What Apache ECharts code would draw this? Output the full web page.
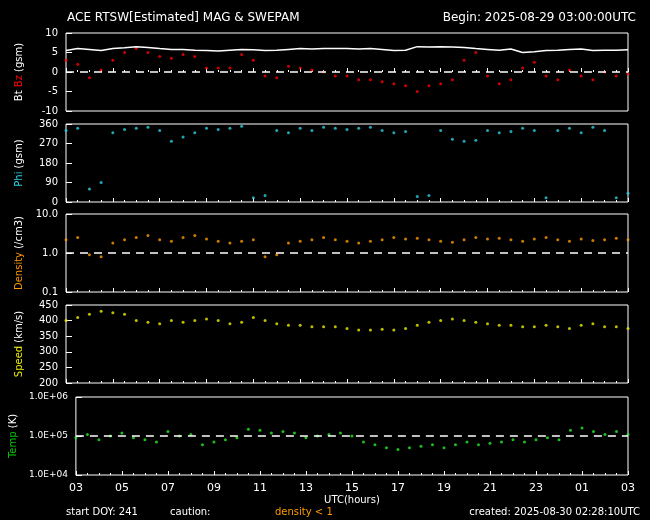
<!DOCTYPE html>
<html><head><meta charset="utf-8">
<script src="https://cdn.jsdelivr.net/npm/echarts@6/dist/echarts.min.js"></script>
<style>html,body{margin:0;background:#000}#c{width:650px;height:520px}</style>
</head><body><div id="c"></div>
<script>
// hours since 03:00 UTC, every 0.5h
const hours = [];
for (let i = 0; i <= 48; i++) hours.push(i / 2);
const bt = [5.5,6,5.8,5.5,6,6.2,6.5,6.3,6,5.8,5.8,5.6,5.5,5.4,5.6,5.8,5.7,5.5,5.6,5.8,6,5.9,6,6,6,5.9,6,5.8,5.5,5.6,6.5,6.4,6.5,6.4,6.3,6,5.8,5.6,5.9,5,5.2,5.5,5.6,5.8,5.9,5.5,5.6,5.6,5.7];
const bz = [3,2,-1.5,0.5,3,5,6,5,4,3.5,4.5,4,1,1,1,4.5,3,-1,-1.5,1.5,1,0.5,0,-1,-1,-2,-2,-2.5,-3,-3.5,-5,-3.5,-3,-2,3,5,-1,-3,-2,1,2.5,-1,-2,0.5,-1,-2,0,-1,-0.5];
const phi = [330,340,60,90,320,335,340,345,330,280,300,320,340,335,340,350,20,30,330,320,340,330,345,340,335,340,345,330,320,325,25,30,330,290,280,285,330,320,325,340,330,20,330,340,320,345,330,20,40];
const dens = [2.2,2.5,0.9,0.8,1.8,2.2,2.5,2.8,2.2,2,2.5,2.8,2.3,2,1.8,2,2.2,0.8,0.9,1.8,2,2.2,2.5,2.2,2,1.8,2,2.2,2.5,2.3,2.4,2.2,2,1.9,2.2,2.5,2.3,2.4,2.2,2,2.3,2.5,2.2,2,2.3,2.1,2.2,2.4,2.2];
const speed = [400,410,420,430,425,420,400,395,390,400,395,400,405,400,390,395,410,400,390,385,385,380,380,380,375,370,370,372,370,375,385,395,400,405,400,395,390,385,385,380,380,385,380,375,385,390,380,380,375];
const temp = [9e4,1.1e5,8e4,1e5,1.2e5,9e4,8e4,7e4,1.3e5,1e5,1.1e5,6e4,7e4,8e4,9e4,1.5e5,1.4e5,1.2e5,1.3e5,1.2e5,9e4,1e5,1.1e5,1.2e5,1e5,7e4,6e4,5e4,4.5e4,5e4,5.5e4,6e4,5e4,6e4,7e4,6e4,6.5e4,7e4,8e4,7e4,8e4,9e4,8e4,1.4e5,1.6e5,1.3e5,1.1e5,1.3e5,1.1e5];
const xTicks = ['03','05','07','09','11','13','15','17','19','21','23','01','03'];

const F = 'DejaVu Sans';
const tops = [33,124,214,305,397], h = 78;
const grids = tops.map(t => ({left:66,right:22,top:t,height:h,show:true,borderColor:'#fff',borderWidth:1,backgroundColor:'#000'}));
const xAxes = tops.map((t,i) => ({gridIndex:i,type:'value',min:0,max:24,interval:2,
  axisLine:{show:false},splitLine:{show:false},
  axisTick:{inside:true,length:4,lineStyle:{color:'#fff'}},
  minorTick:{show:true,splitNumber:4,length:2,lineStyle:{color:'#fff'}},
  axisLabel:{show:i===4,color:'#fff',fontFamily:F,fontSize:11,margin:8,formatter:v=>xTicks[v/2]},
  name:i===4?'UTC(hours)':'',nameLocation:'middle',nameGap:20,nameTextStyle:{color:'#fff',fontFamily:F,fontSize:10}}));
function yax(i,o,nm){return Object.assign({gridIndex:i,axisLine:{show:false},splitLine:{show:false},
  axisTick:{inside:true,length:6,lineStyle:{color:'#fff'}},
  axisLabel:{color:'#fff',fontFamily:F,fontSize:10},
  name:nm,nameLocation:'middle',nameRotate:90,nameGap:42,nameTextStyle:{fontFamily:F,fontSize:10,rich:{w:{color:'#fff',fontSize:10},r:{color:'#f00',fontSize:10},c:{color:'#2ad0e0',fontSize:10},o:{color:'#f90',fontSize:10},y:{color:'#ee0',fontSize:10},g:{color:'#0c0',fontSize:10}}}},o);}
const yAxes = [
  yax(0,{type:'value',min:-10,max:10,interval:5},'{w|Bt} {r|Bz} {w|(gsm)}'),
  yax(1,{type:'value',min:0,max:360,interval:90},'{c|Phi} {w|(gsm)}'),
  yax(2,{type:'log',min:0.1,max:10,logBase:10,axisLabel:{color:'#fff',fontFamily:F,fontSize:10,formatter:v=>v.toFixed(1)}},'{o|Density} {w|(/cm3)}'),
  yax(3,{type:'value',min:200,max:450,interval:50},'{y|Speed} {w|(km/s)}'),
  yax(4,{type:'log',min:1e4,max:1e6,axisLabel:{color:'#fff',fontFamily:F,fontSize:9,formatter:v=>v.toExponential(1).toUpperCase().replace('E+','E+0')}},'{g|Temp} {w|(K)}')
];
const z = a => hours.map((x,i)=>[x,a[i]]);
const dash = v => ({silent:true,symbol:'none',label:{show:false},lineStyle:{color:'#fff',type:[8,6],width:1.5},data:[{yAxis:v}]});
const series = [
  {type:'line',xAxisIndex:0,yAxisIndex:0,data:z(bt),showSymbol:false,lineStyle:{color:'#fff',width:1.5}},
  {type:'scatter',xAxisIndex:0,yAxisIndex:0,data:z(bz),symbolSize:3,itemStyle:{color:'#f00'},markLine:dash(0)},
  {type:'scatter',xAxisIndex:1,yAxisIndex:1,data:z(phi),symbolSize:3,itemStyle:{color:'#2ad0e0'}},
  {type:'scatter',xAxisIndex:2,yAxisIndex:2,data:z(dens),symbolSize:3,itemStyle:{color:'#f90'},markLine:dash(1)},
  {type:'scatter',xAxisIndex:3,yAxisIndex:3,data:z(speed),symbolSize:3,itemStyle:{color:'#ee0'}},
  {type:'scatter',xAxisIndex:4,yAxisIndex:4,data:z(temp),symbolSize:3,itemStyle:{color:'#2e2'},markLine:dash(1e5)}
];
const T = (x,y,t,c,a)=>({type:'text',left:a==='r'?undefined:x,right:a==='r'?x:undefined,top:y,style:{text:t,fill:c||'#fff',font:'10px '+F}});
const chart = echarts.init(document.getElementById('c'));
chart.setOption({backgroundColor:'#000',animation:false,grid:grids,xAxis:xAxes,yAxis:yAxes,series,
  graphic:[
    {type:'text',left:67,top:12,style:{text:'ACE RTSW[Estimated] MAG & SWEPAM',fill:'#fff',font:'12px '+F}},
    {type:'text',right:14,top:12,style:{text:'Begin: 2025-08-29 03:00:00UTC',fill:'#fff',font:'12px '+F}},
    T(66,507,'start DOY: 241'),T(170,507,'caution:'),T(275,507,'density < 1','#f90'),T(10,507,'created: 2025-08-30 02:28:10UTC','#fff','r')
  ]});
</script></body></html>
